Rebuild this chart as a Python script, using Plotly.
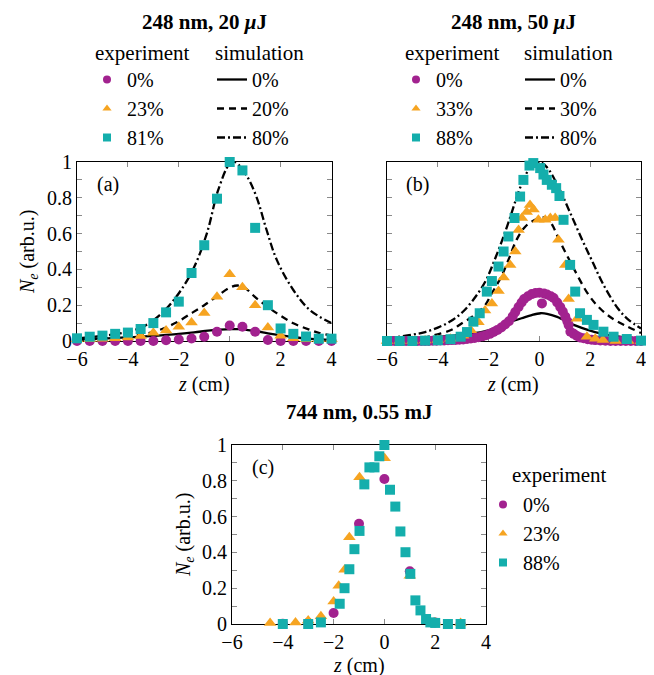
import plotly.graph_objects as go

# ---------------- data ----------------
# Panel (a): 248 nm, 20 uJ
a_exp_x = [-6, -5.5, -5, -4.5, -4, -3.5, -3, -2.5, -2, -1.5, -1, -0.5, 0, 0.5, 1, 1.5, 2, 2.5, 3, 3.5, 4]
a_exp0 = [0, 0, 0, 0, 0, 0, 0, 0.004, 0.008, 0.014, 0.024, 0.052, 0.087, 0.08, 0.052, 0.006, 0, 0, 0, 0, 0]
a_exp23 = [0.01, 0.01, 0.012, 0.015, 0.02, 0.028, 0.046, 0.058, 0.08, 0.104, 0.157, 0.247, 0.373, 0.30, 0.20, 0.075, 0.03, 0.015, 0.01, 0.01, 0.01]
a_exp81 = [0.015, 0.024, 0.03, 0.04, 0.047, 0.067, 0.10, 0.16, 0.22, 0.38, 0.535, 0.795, 1.0, 0.953, 0.632, 0.20, 0.07, 0.04, 0.025, 0.013, 0.013]

a_sim0_x = [-6, -4.8, -3.5, -2.2, -1.4, -0.85, -0.4, 0.07, 0.4, 0.72, 1.1, 1.5, 2.0, 2.55, 3.2, 4.0]
a_sim0 = [0.009, 0.015, 0.024, 0.037, 0.048, 0.058, 0.063, 0.066, 0.066, 0.061, 0.053, 0.043, 0.032, 0.021, 0.012, 0.006]
a_sim20_x = [-6, -5.4, -4.8, -4.1, -3.4, -2.75, -2.1, -1.45, -1.0, -0.5, 0, 0.3, 0.55, 1.05, 1.8, 2.5, 3.1, 3.5, 4.0]
a_sim20 = [0.007, 0.01, 0.016, 0.023, 0.038, 0.062, 0.103, 0.16, 0.2, 0.25, 0.298, 0.31, 0.302, 0.239, 0.16, 0.099, 0.065, 0.046, 0.03]
a_sim80_x = [-6, -4.7, -4, -3.4, -2.75, -2.1, -1.45, -0.9, -0.45, 0, 0.2, 0.65, 1.05, 1.45, 1.85, 2.5, 3.15, 4.0]
a_sim80 = [0.015, 0.034, 0.052, 0.08, 0.145, 0.247, 0.397, 0.60, 0.844, 0.99, 1.0, 0.927, 0.806, 0.62, 0.453, 0.285, 0.173, 0.1]

# Panel (b): 248 nm, 50 uJ
b_exp0_x = [-6, -5.85, -5.7, -5.55, -5.4, -5.25, -5.1, -4.95, -4.8, -4.65, -4.5, -4.35, -4.2, -4.05, -3.9,
            -3.75, -3.6, -3.45, -3.3, -3.15, -3.0, -2.85, -2.7, -2.55, -2.4, -2.25, -2.1, -1.95, -1.8,
            -1.65, -1.5, -1.35, -1.2, -1.05, -0.95, -0.82, -0.7, -0.6, -0.45, -0.3, -0.15, 0.0, 0.1,
            0.18, 0.3, 0.45, 0.56, 0.7, 0.82, 0.92, 1.02, 1.1, 1.15, 1.22, 1.35, 1.48, 1.6, 1.74, 1.9,
            2.05, 2.2, 2.4, 2.6, 2.8, 3.0, 3.2, 3.4, 3.6, 3.8, 4.0]
b_exp0 = [0, 0, 0, 0, 0, 0, 0, 0, 0, 0, 0, 0, 0.002, 0.002, 0.003,
          0.003, 0.004, 0.005, 0.006, 0.007, 0.009, 0.011, 0.014, 0.017, 0.021, 0.026, 0.032, 0.04, 0.05,
          0.062, 0.075, 0.092, 0.11, 0.138, 0.162, 0.19, 0.215, 0.235, 0.25, 0.262, 0.268, 0.27, 0.21,
          0.265, 0.26, 0.25, 0.24, 0.215, 0.19, 0.165, 0.136, 0.11, 0.09, 0.052, 0.04, 0.028, 0.02, 0.015, 0.01,
          0.007, 0.005, 0.003, 0.001, 0, 0, 0, 0, 0, 0, 0]
b_exp33_x = [-6, -5.5, -5, -4.5, -4, -3.5, -3, -2.7, -2.4, -2.14, -1.87, -1.61, -1.41, -1.15, -0.95, -0.82,
             -0.69, -0.5, -0.37, -0.23, -0.04, 0.23, 0.43, 0.62, 0.75, 1.02, 1.15, 1.48, 1.87, 2.2, 2.5, 3.0, 3.5, 4.0]
b_exp33 = [0, 0, 0, 0.003, 0.006, 0.012, 0.03, 0.06, 0.105, 0.17, 0.21, 0.28, 0.355, 0.425, 0.5, 0.62,
           0.687, 0.72, 0.76, 0.735, 0.677, 0.677, 0.687, 0.687, 0.565, 0.425, 0.235, 0.124, 0.024, 0.012, 0.006, 0, 0, 0]
b_exp88_x = [-6, -5.5, -5, -4.5, -4, -3.5, -3.1, -2.85, -2.6, -2.35, -2.07, -1.87, -1.61, -1.41, -1.22,
             -0.98, -0.76, -0.63, -0.39, -0.24, 0.03, 0.16, 0.29, 0.49, 0.66, 0.79, 0.95, 1.21, 1.41, 1.6,
             1.87, 2.13, 2.52, 2.92, 3.44, 4.0]
b_exp88 = [0, 0, 0, 0.002, 0.004, 0.01, 0.024, 0.05, 0.108, 0.155, 0.276, 0.335, 0.416, 0.5, 0.584,
           0.687, 0.807, 0.9, 0.98, 0.994, 0.966, 0.93, 0.90, 0.873, 0.854, 0.81, 0.677, 0.425, 0.276, 0.155,
           0.118, 0.09, 0.052, 0.024, 0.011, 0.002]

b_sim0_x = [-6, -5, -3.9, -3, -2.6, -2, -1.3, -0.7, -0.3, 0.05, 0.3, 0.7, 1.35, 2.0, 2.65, 3.3, 4.0]
b_sim0 = [0.008, 0.013, 0.024, 0.035, 0.043, 0.06, 0.099, 0.127, 0.145, 0.155, 0.152, 0.135, 0.09, 0.058, 0.034, 0.022, 0.015]
b_sim30_x = [-6, -5.4, -4.5, -4.1, -3.5, -3.05, -2.5, -2.14, -1.87, -1.5, -1.2, -0.9, -0.55, -0.17, 0.1, 0.3,
             0.5, 0.75, 1.28, 1.94, 2.4, 2.86, 3.4, 4.0]
b_sim30 = [0.005, 0.008, 0.02, 0.034, 0.06, 0.099, 0.15, 0.2, 0.267, 0.36, 0.46, 0.565, 0.64, 0.677, 0.69, 0.685,
           0.65, 0.574, 0.425, 0.257, 0.18, 0.127, 0.085, 0.045]
b_sim80_x = [-6, -5, -4.5, -4, -3.5, -3, -2.5, -2.1, -1.8, -1.5, -1.2, -0.9, -0.6, -0.3, 0, 0.3, 0.75,
             1.2, 1.7, 2.1, 2.5, 3.1, 3.5, 4.0]
b_sim80 = [0.015, 0.035, 0.05, 0.075, 0.11, 0.165, 0.25, 0.34, 0.44, 0.55, 0.67, 0.8, 0.91, 0.98, 1.0, 0.97, 0.86,
           0.72, 0.56, 0.44, 0.32, 0.18, 0.12, 0.07]

# Panel (c): 744 nm, 0.55 mJ
c_exp0_x = [-4, -3, -2, -1, 0, 1, 2, 3]
c_exp0 = [0.002, 0.007, 0.061, 0.56, 0.81, 0.294, 0.009, 0.0]
c_exp23_x = [-4.5, -3.5, -3, -2.5, -2, -1.8, -1.57, -1.38, -0.98, 0.01, 1.0, 2.0, 3.0]
c_exp23 = [0.006, 0.009, 0.02, 0.043, 0.126, 0.214, 0.303, 0.485, 0.82, 0.926, 0.27, 0.009, 0.006]
c_exp88_x = [-4, -3, -2.5, -1.76, -1.57, -1.38, -1.18, -0.98, -0.79, -0.59, -0.39, -0.2, 0, 0.22, 0.43,
             0.63, 0.83, 1.02, 1.22, 1.42, 1.64, 1.81, 2.0, 2.5, 3.0]
c_exp88 = [0, 0, 0.009, 0.113, 0.2, 0.306, 0.418, 0.52, 0.78, 0.875, 0.875, 0.937, 1.0, 0.75, 0.656,
           0.517, 0.401, 0.28, 0.132, 0.076, 0.028, 0.009, 0.006, 0, 0]

x_ticks = [-6, -4, -2, 0, 2, 4]
y_ticks = [0, 0.2, 0.4, 0.6, 0.8, 1]

# -------------- styling --------------
OFF = 8  # page body margin offset
W, H = 654 - OFF, 675 - OFF
FONT = "Liberation Serif"
FS = 20
PURPLE = "#A2228F"
ORANGE = "#F6A421"
TEAL = "#14AEAC"
TICKC = "#8a8a8a"
DASH = "7px,5px"
DASHDOT = "8px,3px,2px,3px"


def pxx(px):
    return (px - OFF) / W


def pxy(py):
    return 1 - (py - OFF) / H


fig = go.Figure()

panels = [
    ("x", "y", [(a_exp_x, a_exp0), (a_exp_x, a_exp23), (a_exp_x, a_exp81)],
     [(a_sim0_x, a_sim0), (a_sim20_x, a_sim20), (a_sim80_x, a_sim80)]),
    ("x2", "y2", [(b_exp0_x, b_exp0), (b_exp33_x, b_exp33), (b_exp88_x, b_exp88)],
     [(b_sim0_x, b_sim0), (b_sim30_x, b_sim30), (b_sim80_x, b_sim80)]),
    ("x3", "y3", [(c_exp0_x, c_exp0), (c_exp23_x, c_exp23), (c_exp88_x, c_exp88)], []),
]
sym = [("circle", PURPLE, 10), ("triangle-up", ORANGE, 11), ("square", TEAL, 10)]
dashes = ["solid", DASH, DASHDOT]

for xa, ya, exps, sims in panels:
    for (xs, ys), d in zip(sims, dashes):
        fig.add_trace(go.Scatter(x=xs, y=ys, xaxis=xa, yaxis=ya, mode="lines",
                                 line=dict(color="black", width=2.3, dash=d, shape="spline", smoothing=1.0),
                                 showlegend=False, hoverinfo="skip"))
    for (xs, ys), (s, c, sz) in zip(exps, sym):
        fig.add_trace(go.Scatter(x=xs, y=ys, xaxis=xa, yaxis=ya, mode="markers",
                                 marker=dict(symbol=s, color=c, size=sz, line=dict(width=0)),
                                 cliponaxis=False, showlegend=False))

# legend-only entries
leg_exp = {
    "legend": ["0%", "23%", "81%"],
    "legend3": ["0%", "33%", "88%"],
    "legend5": ["0%", "23%", "88%"],
}
leg_sim = {
    "legend2": ["0%", "20%", "80%"],
    "legend4": ["0%", "30%", "80%"],
}
for lg, names in leg_exp.items():
    for nm, (s, c, sz) in zip(names, sym):
        fig.add_trace(go.Scatter(x=[None], y=[None], mode="markers", name=nm, legend=lg,
                                 marker=dict(symbol=s, color=c, size=8)))
for lg, names in leg_sim.items():
    for nm, d in zip(names, dashes):
        fig.add_trace(go.Scatter(x=[None], y=[None], mode="lines", name=nm, legend=lg,
                                 line=dict(color="black", width=2.3, dash=d)))

font = dict(family=FONT, size=FS, color="black")
hfont = dict(family=FONT, size=21, color="black")
lfont = dict(family=FONT, size=20, color="black")


def xaxis(dom, anchor):
    return dict(domain=[pxx(dom[0]), pxx(dom[1])], anchor=anchor, range=[-6, 4], automargin=False,
                tickmode="array", tickvals=x_ticks, ticks="inside", ticklen=5, tickwidth=1,
                tickcolor=TICKC, mirror="allticks", showline=True, linecolor="black", linewidth=1,
                showgrid=False, zeroline=False, tickfont=font, layer="below traces")


def yaxis(dom, anchor, labels=True):
    return dict(domain=[pxy(dom[1]), pxy(dom[0])], anchor=anchor, range=[0, 1], automargin=False,
                tickmode="array", tickvals=y_ticks, ticks="inside", ticklen=5, tickwidth=1,
                tickcolor=TICKC, mirror="allticks", showline=True, linecolor="black", linewidth=1,
                minor=dict(dtick=0.1, tick0=0, ticks="inside", ticklen=5, tickcolor=TICKC, showgrid=False),
                showgrid=False, zeroline=False, tickfont=font, showticklabels=labels,
                layer="below traces")


def legend(xleft, ytop):
    return dict(x=pxx(xleft), y=pxy(ytop), xanchor="left", yanchor="top", font=lfont,
                bgcolor="rgba(0,0,0,0)", borderwidth=0, itemwidth=30, tracegroupgap=0,
                itemclick=False, itemdoubleclick=False)


fig.update_layout(
    template="none",
    width=W, height=H, margin=dict(l=0, r=0, t=0, b=0, pad=0, autoexpand=False),
    paper_bgcolor="white", plot_bgcolor="white", font=font,
    xaxis=xaxis((77, 331.5), "y"), yaxis=yaxis((162, 341), "x"),
    xaxis2=xaxis((387, 641), "y2"), yaxis2=yaxis((162, 341), "x2", labels=False),
    xaxis3=xaxis((232, 486), "y3"), yaxis3=yaxis((445, 624), "x3"),
    legend=legend(87, 60), legend2=legend(212, 60),
    legend3=legend(396, 60), legend4=legend(520, 60),
    legend5=legend(483, 485),
)

ann = []


def text(x, y, s, xanchor="center", yanchor="middle", f=None, **kw):
    d = dict(x=pxx(x), y=pxy(y), xref="paper", yref="paper", text=s, showarrow=False, font=f or font,
             xanchor=xanchor, yanchor=yanchor)
    d.update(kw)
    ann.append(d)


# titles
text(204, 22, "<b>248 nm, 20 <i>μ</i>J</b>", f=hfont)
text(513, 22, "<b>248 nm, 50 <i>μ</i>J</b>", f=hfont)
text(359, 412, "<b>744 nm, 0.55 mJ</b>", f=hfont)
# legend headers
text(93, 53, "experiment", xanchor="left", f=hfont)
text(213, 53, "simulation", xanchor="left", f=hfont)
text(403, 53, "experiment", xanchor="left", f=hfont)
text(522, 53, "simulation", xanchor="left", f=hfont)
text(510, 475, "experiment", xanchor="left", f=hfont)
# axis titles
ylab = "<i>N</i><sub><i>e</i></sub> (arb.u.)"
text(28, 252, ylab, textangle=-90)
text(184, 535, ylab, textangle=-90)
text(204, 385, "<i>z</i> (cm)")
text(513, 385, "<i>z</i> (cm)")
text(359, 665, "<i>z</i> (cm)")
# panel labels
for xr, yr, lab in [("x", "y", "(a)"), ("x2", "y2", "(b)"), ("x3", "y3", "(c)")]:
    ann.append(dict(x=0.122, y=0.877, xref=xr + " domain", yref=yr + " domain", text=lab,
                    showarrow=False, font=font, xanchor="center", yanchor="middle"))

fig.update_layout(annotations=ann)
fig.write_html("out.html")
